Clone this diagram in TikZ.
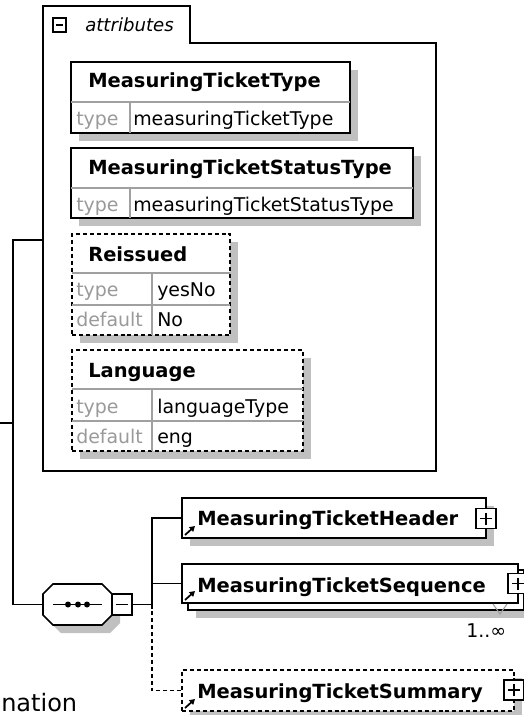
\documentclass[tikz,border=0pt]{standalone}
\usepackage{fontspec}
\setmainfont{DejaVu Sans}
\usetikzlibrary{shadows,arrows.meta}
\newdimen\px \px=0.75pt
\definecolor{shgray}{HTML}{C0C0C0}
\definecolor{lblgray}{HTML}{9A9A9A}
\definecolor{divgray}{HTML}{A0A0A0}
\tikzset{
  ln/.style={line width=1.2pt, draw=black},
  dsh/.style={dash pattern=on 3pt off 2.2pt},
  shad/.style={drop shadow={shadow xshift=6pt, shadow yshift=-6pt, opacity=1, fill=shgray}},
  box/.style={ln, fill=white, inner sep=0pt, outer sep=0pt, shape=rectangle},
  shbox/.style={box, shad},
  divl/.style={draw=divgray, line width=1pt},
  ttl/.style={font=\bfseries\fontsize{14.6}{16}\selectfont, anchor=base west, inner sep=0pt},
  val/.style={font=\fontsize{14.2}{16}\selectfont, anchor=base west, inner sep=0pt},
  lbl/.style={val, text=lblgray},
  icon/.style={draw, line width=0.8pt, fill=white, inner sep=0pt, outer sep=0pt},
  plusicon/.style={icon, minimum width=20\px, minimum height=20\px,
    path picture={
      \draw[line width=0.8pt] ([xshift=4\px]path picture bounding box.west) -- ([xshift=-4\px]path picture bounding box.east);
      \draw[line width=0.8pt] ([yshift=-4\px]path picture bounding box.north) -- ([yshift=4\px]path picture bounding box.south);}},
  minusicon/.style={icon, minimum width=20\px, minimum height=21\px,
    path picture={
      \draw[line width=0.8pt] ([xshift=4\px]path picture bounding box.west) -- ([xshift=-4\px]path picture bounding box.east);}},
  refarrow/.style={line width=1.3pt, -{Triangle[length=4pt,width=4.5pt]}},
}
\begin{document}
\begin{tikzpicture}[x=\px, y=-\px]
\useasboundingbox (0,0) rectangle (524,715);
\fill[white] (0,0) rectangle (524,715);
\clip (0,0) rectangle (524,715);

% attributes group
\draw[ln] (43,471) -- (43,6) -- (190,6) -- (190,43) -- (436,43) -- (436,471) -- cycle;
\node[icon, minimum width=13\px, minimum height=14\px,
  path picture={\draw[line width=0.8pt] ([xshift=3\px]path picture bounding box.west) -- ([xshift=-3\px]path picture bounding box.east);}]
  (attricon) at (59.5,25) {};
\node[font=\itshape\fontsize{13.6}{15}\selectfont, anchor=base west, inner sep=0pt] (attrtxt) at (85,31) {attributes};

% attribute 1
\node[shbox, minimum width=279\px, minimum height=71\px] (a1) at (210.5,97.5) {};
\draw[divl] (71,102) -- (350,102) (130,102) -- (130,133);
\node[ttl] (a1t) at (88,87) {MeasuringTicketType};
\node[lbl] (a1l) at (76,125) {type};
\node[val] (a1v) at (133,125) {measuringTicketType};

% attribute 2
\node[shbox, minimum width=342\px, minimum height=70\px] (a2) at (242,183) {};
\draw[divl] (71,188) -- (413,188) (130,188) -- (130,218);
\node[ttl] (a2t) at (88,174) {MeasuringTicketStatusType};
\node[lbl] (a2l) at (76,211) {type};
\node[val] (a2v) at (133,211) {measuringTicketStatusType};

% attribute 3 (optional)
\node[shbox, dsh, minimum width=158\px, minimum height=101\px] (a3) at (151,284.5) {};
\draw[divl] (72,273) -- (230,273) (72,305) -- (230,305) (152,273) -- (152,335);
\node[ttl] (a3t) at (88,261) {Reissued};
\node[lbl] (a3l1) at (76,296) {type};
\node[val] (a3v1) at (157,296) {yesNo};
\node[lbl] (a3l2) at (76,326) {default};
\node[val] (a3v2) at (157,326) {No};

% attribute 4 (optional)
\node[shbox, dsh, minimum width=231\px, minimum height=101\px] (a4) at (187.5,400.5) {};
\draw[divl] (72,389) -- (303,389) (72,421) -- (303,421) (152,389) -- (152,451);
\node[ttl] (a4t) at (88,377) {Language};
\node[lbl] (a4l1) at (76,413) {type};
\node[val] (a4v1) at (157,413) {languageType};
\node[lbl] (a4l2) at (76,443) {default};
\node[val] (a4v2) at (157,443) {eng};

% sequence compositor
\draw[ln, fill=white, shad] (53,584) -- (102,584) -- (112,594) -- (112,615) -- (102,625) -- (53,625) -- (43,615) -- (43,594) -- cycle;
\node[inner sep=0pt, outer sep=0pt, minimum width=69\px, minimum height=41\px] (seqsym) at (77.5,604.5) {};
\draw[line width=1pt] (53,604.5) -- (102,604.5);
\foreach \xx in {68,78,87} \fill (\xx,604.5) circle (3\px);
\node[minusicon] (seqmin) at (122,604.5) {};

% element boxes
\node[shbox, minimum width=304\px, minimum height=40\px] (hdr) at (334,518) {};
\node[ttl] (hdrt) at (197,525) {MeasuringTicketHeader};
\node[plusicon] (hdrp) at (486,518.5) {};
\draw[refarrow] (185,535) -- (195,526);

\node[shbox, minimum width=336\px, minimum height=40\px] (seqb) at (356,590) {};
\node[box, minimum width=336\px, minimum height=39\px] (seq) at (350,583.5) {};
\node[ttl] (seqt) at (197,592) {MeasuringTicketSequence};
\node[plusicon] (seqp) at (518,583.5) {};
\draw[refarrow] (185,600) -- (195,591);
\draw[draw=divgray, line width=0.8pt] (493,604) -- (500,614) -- (507,604);
\node[val] (card) at (466,637) {1..∞};

\node[shbox, dsh, minimum width=332\px, minimum height=41\px] (sum) at (348,690.5) {};
\node[ttl] (sumt) at (197,698) {MeasuringTicketSummary};
\node[plusicon] (sump) at (514,690) {};
\draw[refarrow] (185,708) -- (195,699);

% connectors
\coordinate (attrL) at (43,240);
\coordinate (b1) at (13,240);
\coordinate (in) at (0,423);
\coordinate (j2) at (152,604.5);
\draw[ln] (attrL) -- (b1) |- (seqsym.west);
\draw[ln] (in) -- (in -| b1);
\draw[ln] (seqmin.east) -- (j2);
\draw[ln] (j2) |- (hdr.west);
\draw[ln] (j2) |- (seq.west);
\draw[ln, dsh] (j2) |- (sum.west);

% cut-off text at bottom left
\node[font=\fontsize{18}{20}\selectfont, anchor=base west, inner sep=0pt] (note) at (1,711) {nation};
\end{tikzpicture}
\end{document}
